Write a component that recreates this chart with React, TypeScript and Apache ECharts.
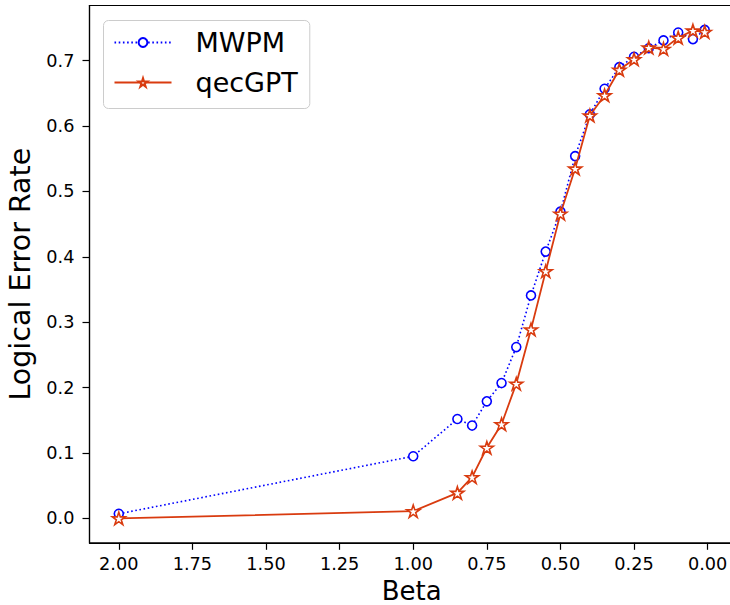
import React, { useEffect, useRef } from "react";
import * as echarts from "echarts";

const betaValues = [2.0, 1.0, 0.85, 0.8, 0.75, 0.7, 0.65, 0.6, 0.55, 0.5, 0.45, 0.4, 0.35, 0.3, 0.25, 0.2, 0.15, 0.1, 0.05, 0.01];
const mwpmValues = [0.007, 0.095, 0.152, 0.142, 0.179, 0.207, 0.262, 0.341, 0.408, 0.469, 0.554, 0.618, 0.657, 0.690, 0.706, 0.719, 0.731, 0.743, 0.733, 0.747];
const qecgptValues = [0.0, 0.011, 0.039, 0.063, 0.108, 0.144, 0.206, 0.289, 0.378, 0.466, 0.535, 0.616, 0.647, 0.686, 0.702, 0.720, 0.718, 0.735, 0.746, 0.744];
const xTickValues = [0, 0.25, 0.5, 0.75, 1.0, 1.25, 1.5, 1.75, 2.0];
const yTickValues = [0, 0.1, 0.2, 0.3, 0.4, 0.5, 0.6, 0.7];
const seriesNames = ["MWPM", "qecGPT"];

const FONT = "DejaVu Sans";
const BLUE = "#0000ff";
const RED = "#d93b0f";

function starPath(): string {
  const pts: string[] = [];
  for (let i = 0; i < 10; i++) {
    const a = (-90 + i * 36) * Math.PI / 180;
    const r = i % 2 === 0 ? 1 : 0.382;
    pts.push(`${(r * Math.cos(a)).toFixed(4)} ${(r * Math.sin(a)).toFixed(4)}`);
  }
  return "path://M" + pts.join(" L") + " Z";
}

export default function App() {
  const ref = useRef<HTMLDivElement>(null);
  useEffect(() => {
    if (!ref.current) return;
    const chart = echarts.init(ref.current, undefined, { renderer: "svg" });
    const xMinD = Math.min(...betaValues), xMaxD = Math.max(...betaValues);
    const xm = (xMaxD - xMinD) * 0.05;
    const allY = [...mwpmValues, ...qecgptValues];
    const yMinD = Math.min(...allY), yMaxD = Math.max(...allY);
    const ym = (yMaxD - yMinD) * 0.05;
    const STAR = starPath();
    chart.setOption({
      animation: false,
      backgroundColor: "#ffffff",
      grid: {
        left: 89.5, top: 5.5, width: 644.5, height: 537.3,
        outerBoundsMode: "none",
        containLabel: false,
        show: true, borderColor: "#000", borderWidth: 1.2, backgroundColor: "transparent",
      },
      legend: {
        left: 103.5, top: 20.5,
        orient: "vertical",
        data: seriesNames,
        itemWidth: 57, itemHeight: 11, itemGap: 10,
        padding: [7, 12, 11, 10],
        backgroundColor: "#ffffff",
        borderColor: "#cccccc", borderWidth: 1, borderRadius: 5,
        textStyle: { fontFamily: FONT, fontSize: 27, color: "#000", lineHeight: 30, padding: [0, 0, 0, 19] },
      },
      xAxis: {
        type: "value",
        inverse: true,
        min: xMinD - xm, max: xMaxD + xm,
        name: "Beta", nameLocation: "middle", nameGap: 32,
        nameTextStyle: { fontFamily: FONT, fontSize: 26, color: "#000", lineHeight: 22 },
        axisLine: { onZero: false, lineStyle: { color: "#000", width: 1.2 } },
        axisTick: { show: true, length: 7, lineStyle: { color: "#000", width: 1.2 }, customValues: xTickValues },
        axisLabel: {
          fontFamily: FONT, fontSize: 17.7, color: "#000", margin: 12,
          customValues: xTickValues,
          formatter: (v: number) => v.toFixed(2),
        },
        splitLine: { show: false },
      },
      yAxis: {
        type: "value",
        min: yMinD - ym, max: yMaxD + ym,
        name: "Logical Error Rate", nameLocation: "middle", nameGap: 54,
        nameTextStyle: { fontFamily: FONT, fontSize: 28.5, color: "#000" },
        axisLine: { show: true, onZero: false, lineStyle: { color: "#000", width: 1.2 } },
        axisTick: { show: true, length: 7, lineStyle: { color: "#000", width: 1.2 }, customValues: yTickValues },
        axisLabel: {
          fontFamily: FONT, fontSize: 17.7, color: "#000", margin: 15,
          customValues: yTickValues,
          formatter: (v: number) => v.toFixed(1),
        },
        splitLine: { show: false },
      },
      series: [
        {
          name: seriesNames[0],
          type: "line",
          data: betaValues.map((b, i) => [b, mwpmValues[i]]),
          symbol: "circle",
          symbolSize: 9,
          itemStyle: { color: "#ffffff", borderColor: BLUE, borderWidth: 1.6 },
          lineStyle: { color: BLUE, width: 1.6, type: [1.6, 2.6] },
          z: 2,
        },
        {
          name: seriesNames[1],
          type: "line",
          data: betaValues.map((b, i) => [b, qecgptValues[i]]),
          symbol: STAR,
          symbolKeepAspect: true,
          symbolSize: 13,
          itemStyle: { color: "#ffffff", borderColor: RED, borderWidth: 1.6 },
          lineStyle: { color: RED, width: 1.8, type: "solid" },
          z: 3,
        },
      ],
    });
    return () => chart.dispose();
  }, []);
  return (
    <div style={{ position: "absolute", left: 0, top: 0, width: 730, height: 605, overflow: "hidden" }}>
      <div ref={ref} style={{ width: 730, height: 605 }} />
    </div>
  );
}
